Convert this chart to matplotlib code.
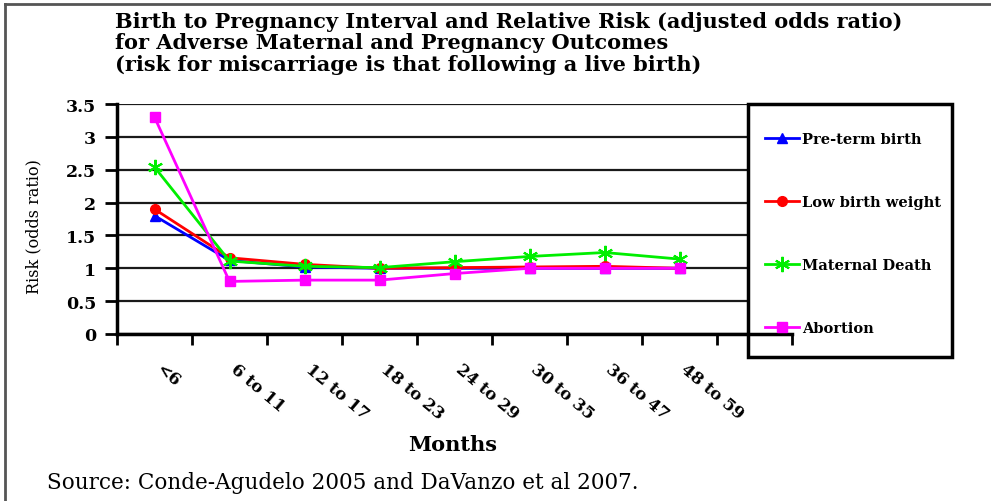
import matplotlib
matplotlib.use("Agg")
import matplotlib.pyplot as plt
import matplotlib.transforms as mtransforms
from matplotlib.lines import Line2D
from matplotlib.patches import Rectangle
import numpy as np

# Data
months = ["<6", "6 to 11", "12 to 17", "18 to 23", "24 to 29", "30 to 35", "36 to 47", "48 to 59"]
preterm = [1.8, 1.12, 1.02, 1.0, 1.0, 1.0, 1.0, 1.0]
low_weight = [1.9, 1.16, 1.06, 1.0, 1.01, 1.02, 1.03, 1.0]
maternal_death = [2.54, 1.11, 1.03, 1.01, 1.1, 1.18, 1.24, 1.14]
abortion = [3.3, 0.8, 0.82, 0.82, 0.92, 1.0, 1.0, 1.0]

W, H = 991, 502
SERIF = "DejaVu Serif"

fig = plt.figure(figsize=(W / 100, H / 100), dpi=100)
ax = fig.add_axes([117 / W, 1 - 335 / H, (792 - 117) / W, (335 - 105) / H])

x = np.arange(len(months))
ax.plot(x, preterm, color="#0000ff", lw=2, marker="^", ms=7, label="Pre-term birth", zorder=4)
ax.plot(x, low_weight, color="#ff0000", lw=2, marker="o", ms=7, label="Low birth weight", zorder=4)
ax.plot(x, maternal_death, color="#00ee00", lw=2, marker=(6, 2, 0), ms=11, mew=1.5,
        label="Maternal Death", zorder=4)
ax.plot(x, abortion, color="#ff00ff", lw=2, marker="s", ms=7, label="Abortion", zorder=4)

# axes, 9 category slots (last one sits under the legend box)
ax.set_xlim(-0.5, 8.5)
ax.set_ylim(0, 3.5)
ax.set_yticks(np.arange(0, 3.51, 0.5))
ax.set_yticklabels(["0", "0.5", "1", "1.5", "2", "2.5", "3", "3.5"],
                   fontfamily=SERIF, fontweight="bold", fontsize=12.5)
ax.yaxis.grid(True, color="#1a1a1a", lw=1.6)
ax.set_xticks(np.arange(-0.5, 9, 1))
ax.set_xticklabels([])
ax.set_xticks(x, months, minor=True)
ax.tick_params(axis="x", which="major", length=8, width=2, direction="out")
ax.tick_params(axis="x", which="minor", length=0, pad=19)
ax.tick_params(axis="y", length=9, width=2, pad=6)
for lab in ax.get_xticklabels(minor=True):
    lab.set_rotation(-40)
    lab.set_rotation_mode("anchor")
    lab.set_ha("left")
    lab.set_va("top")
    lab.set_fontfamily(SERIF)
    lab.set_fontweight("bold")
    lab.set_fontsize(12)
    lab.set_transform(lab.get_transform() + mtransforms.ScaledTranslation(9 / 100, 0, fig.dpi_scale_trans))

for s in ["top", "right"]:
    ax.spines[s].set_visible(False)
for s in ["left", "bottom"]:
    ax.spines[s].set_linewidth(2.5)
    ax.spines[s].set_zorder(5)
ax.yaxis.set_zorder(0.5)
ax.xaxis.set_zorder(6)

ax.set_ylabel("Risk (odds ratio)", fontfamily=SERIF, fontsize=11.5)
ax.yaxis.set_label_coords(42 / W, 1 - 227 / H, transform=fig.transFigure)
fig.text(453 / W, 1 - 445 / H, "Months", fontfamily=SERIF, fontweight="bold",
         fontsize=15, ha="center", va="center")

# legend box overlapping the right end of the plot area
box = Rectangle((748 / W, 1 - 358 / H), (952 - 748) / W, (358 - 105) / H,
                transform=fig.transFigure, facecolor="white", edgecolor="black",
                lw=2.5, zorder=1, clip_on=False)
ax.add_patch(box)
leg = ax.legend(loc="upper left", bbox_to_anchor=(758 / W, 1 - 126 / H),
                bbox_transform=fig.transFigure, frameon=False, borderpad=0,
                labelspacing=3.35, handlelength=2.3, handletextpad=0.2,
                prop={"family": SERIF, "weight": "bold", "size": 10.5})

# title and source
fig.text(115 / W, 1 - 12 / H,
         "Birth to Pregnancy Interval and Relative Risk (adjusted odds ratio)\n"
         "for Adverse Maternal and Pregnancy Outcomes\n"
         "(risk for miscarriage is that following a live birth)",
         fontfamily=SERIF, fontweight="bold", fontsize=15, ha="left", va="top",
         linespacing=1.08)
fig.text(47 / W, 1 - 483 / H, "Source: Conde-Agudelo 2005 and DaVanzo et al 2007.",
         fontfamily=SERIF, fontsize=15.5, ha="left", va="center")

# outer frame (left and top edges)
fig.add_artist(Line2D([5 / W, 5 / W], [0, 1 - 5 / H], color="#555555", lw=2))
fig.add_artist(Line2D([5 / W, 1], [1 - 5 / H, 1 - 5 / H], color="#555555", lw=2))

fig.savefig("out.png", dpi=100)
